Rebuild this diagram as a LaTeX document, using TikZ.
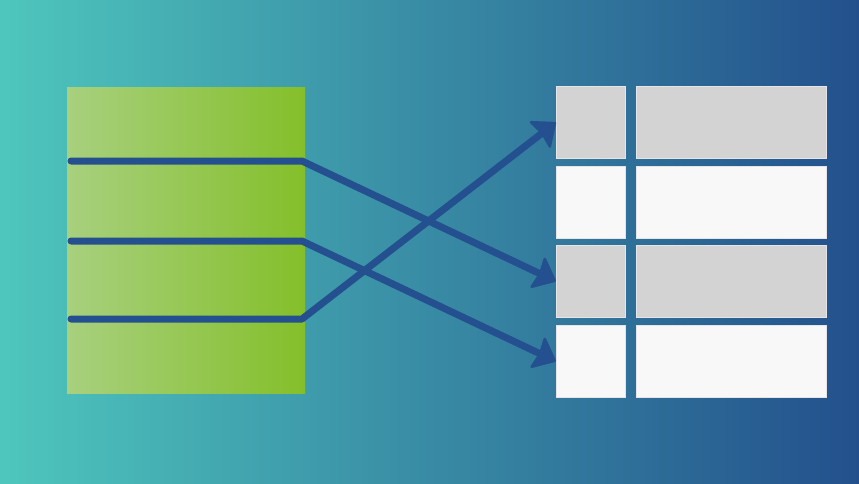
\documentclass[tikz,border=0pt]{standalone}
\usetikzlibrary{calc,positioning}
\definecolor{bgL}{HTML}{4EC6BD}
\definecolor{bgR}{HTML}{23508C}
\definecolor{grL}{HTML}{A8D07E}
\definecolor{grR}{HTML}{84BF2A}
\definecolor{lineblue}{HTML}{24508F}
\definecolor{cellgray}{HTML}{D3D3D3}
\definecolor{cellwhite}{HTML}{F8F8F8}
\tikzset{
  cellbox/.style={draw=white!80!gray, line width=0.6pt, inner sep=0pt, anchor=north west},
  graycell/.style={cellbox, fill=cellgray},
  whitecell/.style={cellbox, fill=cellwhite},
  rowline/.style={draw=lineblue, line width=7pt, line cap=round, line join=round},
  headfill/.style={fill=lineblue, draw=lineblue, line width=2.5pt, line join=round},
}
\newcommand{\myhead}[2]{% tip, from
  \filldraw[headfill] ($(#1)!1.3pt!(#2)$) -- ($(#1)!25pt!38:(#2)$) -- ($(#1)!17.5pt!(#2)$) -- ($(#1)!25pt!-38:(#2)$) -- cycle;}
\begin{document}
\begin{tikzpicture}[x=1pt,y=-1pt]
\useasboundingbox (0,0) rectangle (859,483);
\shade[left color=bgL, right color=bgR] (0,0) rectangle (859,483);
\node[inner sep=0pt, anchor=north west, minimum width=238pt, minimum height=306pt,
      left color=grL, right color=grR] (src) at (67,87) {};
% table cells
\node[graycell, minimum width=69pt, minimum height=72pt] (a1) at (556,86) {};
\node[graycell, minimum width=190pt, minimum height=72pt] (b1) at (636,86) {};
\node[whitecell, minimum width=69pt, minimum height=72pt] (a2) at (556,166) {};
\node[whitecell, minimum width=190pt, minimum height=72pt] (b2) at (636,166) {};
\node[graycell, minimum width=69pt, minimum height=72pt] (a3) at (556,245) {};
\node[graycell, minimum width=190pt, minimum height=72pt] (b3) at (636,245) {};
\node[whitecell, minimum width=69pt, minimum height=72pt] (a4) at (556,325) {};
\node[whitecell, minimum width=190pt, minimum height=72pt] (b4) at (636,325) {};
% line starts and bends
\coordinate (s1) at (71,161);
\coordinate (s2) at (71,241);
\coordinate (s3) at (71,319);
\coordinate (k1) at (302,161);
\coordinate (k2) at (302,241);
\coordinate (k3) at (302,319);
\draw[rowline] (s1) -- (k1) -- ($(a3.west)!15pt!(k1)$);
\draw[rowline] (s2) -- (k2) -- ($(a4.west)!15pt!(k2)$);
\draw[rowline] (s3) -- (k3) -- ($(a1.west)!15pt!(k3)$);
\myhead{a3.west}{k1}
\myhead{a4.west}{k2}
\myhead{a1.west}{k3}
\end{tikzpicture}
\end{document}
